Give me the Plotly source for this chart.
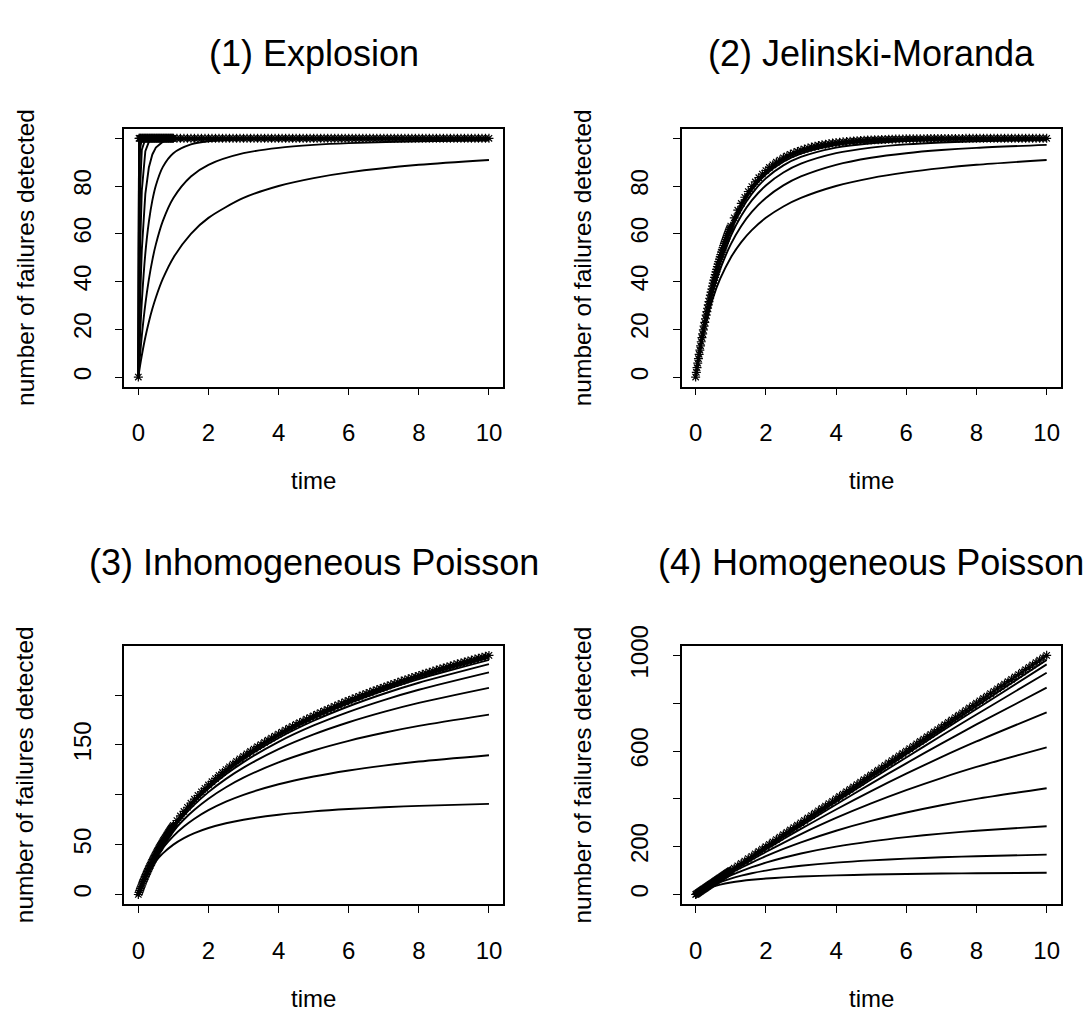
import plotly.graph_objects as go

# ---------------- data ----------------
T_STAR = [0.0, 0.1, 0.2, 0.3, 0.4, 0.5, 0.6, 0.7, 0.8, 0.9, 1.0,
          1.1, 1.2, 1.3, 1.4, 1.5, 1.6, 1.7, 1.8, 1.9, 2.0,
          2.1, 2.2, 2.3, 2.4, 2.5, 2.6, 2.7, 2.8, 2.9, 3.0,
          3.1, 3.2, 3.3, 3.4, 3.5, 3.6, 3.7, 3.8, 3.9, 4.0,
          4.1, 4.2, 4.3, 4.4, 4.5, 4.6, 4.7, 4.8, 4.9, 5.0,
          5.1, 5.2, 5.3, 5.4, 5.5, 5.6, 5.7, 5.8, 5.9, 6.0,
          6.1, 6.2, 6.3, 6.4, 6.5, 6.6, 6.7, 6.8, 6.9, 7.0,
          7.1, 7.2, 7.3, 7.4, 7.5, 7.6, 7.7, 7.8, 7.9, 8.0,
          8.1, 8.2, 8.3, 8.4, 8.5, 8.6, 8.7, 8.8, 8.9, 9.0,
          9.1, 9.2, 9.3, 9.4, 9.5, 9.6, 9.7, 9.8, 9.9, 10.0]

STAR1 = [0,
         100, 100, 100, 100, 100, 100, 100, 100, 100, 100,
         100, 100, 100, 100, 100, 100, 100, 100, 100, 100,
         100, 100, 100, 100, 100, 100, 100, 100, 100, 100,
         100, 100, 100, 100, 100, 100, 100, 100, 100, 100,
         100, 100, 100, 100, 100, 100, 100, 100, 100, 100,
         100, 100, 100, 100, 100, 100, 100, 100, 100, 100,
         100, 100, 100, 100, 100, 100, 100, 100, 100, 100,
         100, 100, 100, 100, 100, 100, 100, 100, 100, 100,
         100, 100, 100, 100, 100, 100, 100, 100, 100, 100,
         100, 100, 100, 100, 100, 100, 100, 100, 100, 100]

STAR2 = [0.0, 9.5, 18.1, 25.9, 33.0, 39.3, 45.1, 50.3, 55.1, 59.3, 63.2,
         66.7, 69.9, 72.7, 75.3, 77.7, 79.8, 81.7, 83.5, 85.0, 86.5,
         87.8, 88.9, 90.0, 90.9, 91.8, 92.6, 93.3, 93.9, 94.5, 95.0,
         95.5, 95.9, 96.3, 96.7, 97.0, 97.3, 97.5, 97.8, 98.0, 98.2,
         98.3, 98.5, 98.6, 98.8, 98.9, 99.0, 99.1, 99.2, 99.3, 99.3,
         99.4, 99.4, 99.5, 99.5, 99.6, 99.6, 99.7, 99.7, 99.7, 99.8,
         99.8, 99.8, 99.8, 99.8, 99.8, 99.9, 99.9, 99.9, 99.9, 99.9,
         99.9, 99.9, 99.9, 99.9, 99.9, 99.9, 100.0, 100.0, 100.0, 100.0,
         100.0, 100.0, 100.0, 100.0, 100.0, 100.0, 100.0, 100.0, 100.0, 100.0,
         100.0, 100.0, 100.0, 100.0, 100.0, 100.0, 100.0, 100.0, 100.0, 100.0]

STAR3 = [0.0, 9.5, 18.2, 26.2, 33.6, 40.5, 47.0, 53.1, 58.8, 64.2, 69.3,
         74.2, 78.8, 83.3, 87.5, 91.6, 95.6, 99.3, 103.0, 106.5, 109.9,
         113.1, 116.3, 119.4, 122.4, 125.3, 128.1, 130.8, 133.5, 136.1, 138.6,
         141.1, 143.5, 145.9, 148.2, 150.4, 152.6, 154.8, 156.9, 158.9, 160.9,
         162.9, 164.9, 166.8, 168.6, 170.5, 172.3, 174.0, 175.8, 177.5, 179.2,
         180.8, 182.5, 184.1, 185.6, 187.2, 188.7, 190.2, 191.7, 193.2, 194.6,
         196.0, 197.4, 198.8, 200.1, 201.5, 202.8, 204.1, 205.4, 206.7, 207.9,
         209.2, 210.4, 211.6, 212.8, 214.0, 215.2, 216.3, 217.5, 218.6, 219.7,
         220.8, 221.9, 223.0, 224.1, 225.1, 226.2, 227.2, 228.2, 229.2, 230.3,
         231.3, 232.2, 233.2, 234.2, 235.1, 236.1, 237.0, 238.0, 238.9, 239.8]

STAR4 = [0, 10, 20, 30, 40, 50, 60, 70, 80, 90, 100,
         110, 120, 130, 140, 150, 160, 170, 180, 190, 200,
         210, 220, 230, 240, 250, 260, 270, 280, 290, 300,
         310, 320, 330, 340, 350, 360, 370, 380, 390, 400,
         410, 420, 430, 440, 450, 460, 470, 480, 490, 500,
         510, 520, 530, 540, 550, 560, 570, 580, 590, 600,
         610, 620, 630, 640, 650, 660, 670, 680, 690, 700,
         710, 720, 730, 740, 750, 760, 770, 780, 790, 800,
         810, 820, 830, 840, 850, 860, 870, 880, 890, 900,
         910, 920, 930, 940, 950, 960, 970, 980, 990, 1000]

# extra (denser) star points in the first time unit
T_STAR_FINE = [0.02, 0.04, 0.06, 0.08, 0.12, 0.14, 0.16, 0.18,
               0.22, 0.24, 0.26, 0.28, 0.32, 0.34, 0.36, 0.38,
               0.42, 0.44, 0.46, 0.48, 0.52, 0.54, 0.56, 0.58,
               0.62, 0.64, 0.66, 0.68, 0.72, 0.74, 0.76, 0.78,
               0.82, 0.84, 0.86, 0.88, 0.92, 0.94, 0.96, 0.98]
STAR1_FINE = [100, 100, 100, 100, 100, 100, 100, 100,
              100, 100, 100, 100, 100, 100, 100, 100,
              100, 100, 100, 100, 100, 100, 100, 100,
              100, 100, 100, 100, 100, 100, 100, 100,
              100, 100, 100, 100, 100, 100, 100, 100]
STAR2_FINE = [1.98, 3.92, 5.82, 7.69, 11.31, 13.06, 14.79, 16.47,
              19.75, 21.34, 22.89, 24.42, 27.39, 28.82, 30.23, 31.61,
              34.30, 35.60, 36.87, 38.12, 40.55, 41.73, 42.88, 44.01,
              46.21, 47.27, 48.31, 49.34, 51.32, 52.29, 53.23, 54.16,
              55.96, 56.83, 57.68, 58.52, 60.15, 60.94, 61.71, 62.47]
STAR3_FINE = [1.98, 3.92, 5.83, 7.70, 11.33, 13.10, 14.84, 16.55,
              19.89, 21.51, 23.11, 24.69, 27.76, 29.27, 30.75, 32.21,
              35.07, 36.46, 37.84, 39.20, 41.87, 43.18, 44.47, 45.74,
              48.24, 49.47, 50.68, 51.88, 54.23, 55.39, 56.53, 57.66,
              59.88, 60.98, 62.06, 63.13, 65.23, 66.27, 67.29, 68.31]
STAR4_FINE = [2, 4, 6, 8, 12, 14, 16, 18,
              22, 24, 26, 28, 32, 34, 36, 38,
              42, 44, 46, 48, 52, 54, 56, 58,
              62, 64, 66, 68, 72, 74, 76, 78,
              82, 84, 86, 88, 92, 94, 96, 98]

# panel 1 curves (time grid dense near 0)
T1 = [0, 0.02, 0.05, 0.1, 0.2, 0.3, 0.4, 0.5, 0.7, 1, 1.5, 2, 3, 4, 5, 6, 8, 10]
P1_A1 = [0, 1.96, 4.76, 9.09, 16.67, 23.08, 28.57, 33.33, 41.18, 50.0, 60.0, 66.67, 75.0, 80.0, 83.33, 85.71, 88.89, 90.91]
P1_A2 = [0, 3.88, 9.30, 17.36, 30.56, 40.83, 48.98, 55.56, 65.40, 75.0, 84.0, 88.89, 93.75, 96.0, 97.22, 97.96, 98.77, 99.17]
P1_A4 = [0, 7.62, 17.73, 31.70, 51.77, 64.99, 73.97, 80.25, 88.03, 93.75, 97.44, 98.77, 99.61, 99.84, 99.92, 99.96, 99.98, 99.99]
P1_A8 = [0, 14.65, 32.32, 53.35, 76.74, 87.74, 93.22, 96.10, 98.57, 99.61, 99.93, 99.98, 100, 100, 100, 100, 100, 100]
P1_A16 = [0, 27.16, 54.19, 78.24, 94.59, 98.50, 99.54, 99.85, 99.98, 100, 100, 100, 100, 100, 100, 100, 100, 100]
P1_A32 = [0, 46.94, 79.01, 95.26, 99.71, 99.98, 100, 100, 100, 100, 100, 100, 100, 100, 100, 100, 100, 100]
P1_A64 = [0, 71.84, 95.59, 99.78, 100, 100, 100, 100, 100, 100, 100, 100, 100, 100, 100, 100, 100, 100]
P1_A128 = [0, 92.07, 99.81, 100, 100, 100, 100, 100, 100, 100, 100, 100, 100, 100, 100, 100, 100, 100]
P1_A256 = [0, 99.37, 100, 100, 100, 100, 100, 100, 100, 100, 100, 100, 100, 100, 100, 100, 100, 100]
P1_A512 = [0, 100, 100, 100, 100, 100, 100, 100, 100, 100, 100, 100, 100, 100, 100, 100, 100, 100]

# time grid for panels 2-4
T = [0, 0.1, 0.2, 0.3, 0.5, 0.7, 1, 1.3, 1.6, 2, 2.5, 3, 4, 5, 6, 7, 8, 10]

P2_B1 = [0, 9.09, 16.67, 23.08, 33.33, 41.18, 50.0, 56.52, 61.54, 66.67, 71.43, 75.0, 80.0, 83.33, 85.71, 87.5, 88.89, 90.91]
P2_B2 = [0, 9.30, 17.36, 24.39, 36.0, 45.13, 55.56, 63.27, 69.14, 75.0, 80.25, 84.0, 88.89, 91.84, 93.75, 95.06, 96.0, 97.22]
P2_B4 = [0, 9.40, 17.73, 25.12, 37.57, 47.54, 59.04, 67.56, 73.97, 80.25, 85.66, 89.34, 93.75, 96.10, 97.44, 98.25, 98.77, 99.33]
P2_B8 = [0, 9.46, 17.92, 25.51, 38.43, 48.88, 61.03, 70.02, 76.74, 83.22, 88.65, 92.17, 96.10, 97.94, 98.86, 99.35, 99.61, 99.85]
P2_B16 = [0, 9.49, 18.03, 25.71, 38.88, 49.60, 62.09, 71.35, 78.24, 84.81, 90.20, 93.61, 97.18, 98.71, 99.39, 99.70, 99.85, 99.96]
P2_B32 = [0, 9.50, 18.08, 25.81, 39.11, 49.96, 62.64, 72.04, 79.01, 85.63, 90.99, 94.32, 97.69, 99.04, 99.59, 99.82, 99.92, 99.98]
P2_B64 = [0, 9.51, 18.10, 25.87, 39.23, 50.15, 62.92, 72.39, 79.41, 86.04, 91.39, 94.67, 97.94, 99.19, 99.68, 99.87, 99.95, 99.99]
P2_B128 = [0, 9.51, 18.12, 25.89, 39.28, 50.25, 63.06, 72.57, 79.60, 86.25, 91.59, 94.84, 98.07, 99.26, 99.72, 99.89, 99.96, 100.0]

P3_C1 = [0, 9.09, 16.67, 23.08, 33.33, 41.18, 50.0, 56.52, 61.54, 66.67, 71.43, 75.0, 80.0, 83.33, 85.71, 87.5, 88.89, 90.91]
P3_C2 = [0, 9.31, 17.43, 24.59, 36.70, 46.61, 58.58, 68.12, 75.97, 84.53, 93.10, 100.0, 110.56, 118.35, 124.41, 129.29, 133.33, 139.70]
P3_C4 = [0, 9.42, 17.82, 25.39, 38.56, 49.69, 63.64, 75.19, 84.99, 96.07, 107.56, 117.16, 132.50, 144.42, 154.08, 162.16, 169.06, 180.36]
P3_C8 = [0, 9.47, 18.03, 25.81, 39.54, 51.34, 66.40, 79.10, 90.07, 102.65, 115.96, 127.28, 145.79, 160.53, 172.73, 183.12, 192.13, 207.19]
P3_C16 = [0, 9.50, 18.13, 26.02, 40.04, 52.19, 67.84, 81.16, 92.75, 106.17, 120.50, 132.79, 153.11, 169.51, 183.22, 195.00, 205.30, 222.69]
P3_C32 = [0, 9.52, 18.18, 26.13, 40.29, 52.63, 68.57, 82.22, 94.14, 108.00, 122.86, 135.67, 156.96, 174.25, 188.79, 201.33, 212.35, 231.03]
P3_C64 = [0, 9.52, 18.21, 26.18, 40.42, 52.84, 68.94, 82.75, 94.84, 108.92, 124.06, 137.14, 158.94, 176.69, 191.66, 204.60, 216.0, 235.35]
P3_C128 = [0, 9.53, 18.22, 26.21, 40.48, 52.95, 69.13, 83.02, 95.20, 109.39, 124.67, 137.88, 159.94, 177.93, 193.12, 206.26, 217.85, 237.56]
P3_C256 = [0, 9.53, 18.23, 26.22, 40.51, 53.01, 69.22, 83.16, 95.37, 109.63, 124.97, 138.25, 160.44, 178.55, 193.85, 207.10, 218.78, 238.67]
P3_C512 = [0, 9.53, 18.23, 26.23, 40.53, 53.03, 69.27, 83.22, 95.46, 109.74, 125.12, 138.44, 160.69, 178.86, 194.22, 207.52, 219.25, 239.23]

P4_D1 = [0, 9.09, 16.67, 23.08, 33.33, 41.18, 50.0, 56.52, 61.54, 66.67, 71.43, 75.0, 80.0, 83.33, 85.71, 87.5, 88.89, 90.91]
P4_D2 = [0, 9.52, 18.18, 26.09, 40.0, 51.85, 66.67, 78.79, 88.89, 100.0, 111.11, 120.0, 133.33, 142.86, 150.0, 155.56, 160.0, 166.67]
P4_D4 = [0, 9.76, 19.05, 27.91, 44.44, 59.57, 80.0, 98.11, 114.29, 133.33, 153.85, 171.43, 200.0, 222.22, 240.0, 254.55, 266.67, 285.71]
P4_D8 = [0, 9.88, 19.51, 28.92, 47.06, 64.37, 88.89, 111.83, 133.33, 160.0, 190.48, 218.18, 266.67, 307.69, 342.86, 373.33, 400.0, 444.44]
P4_D16 = [0, 9.94, 19.75, 29.45, 48.48, 67.07, 94.12, 120.23, 145.45, 177.78, 216.22, 252.63, 320.0, 380.95, 436.36, 486.96, 533.33, 615.38]
P4_D32 = [0, 9.97, 19.88, 29.72, 49.23, 68.50, 96.97, 124.92, 152.38, 188.24, 231.88, 274.29, 355.56, 432.43, 505.26, 574.36, 640.0, 761.90]
P4_D64 = [0, 9.98, 19.94, 29.86, 49.61, 69.24, 98.46, 127.41, 156.10, 193.94, 240.60, 286.57, 376.47, 463.77, 548.57, 630.99, 711.11, 864.86]
P4_D128 = [0, 9.99, 19.97, 29.93, 49.81, 69.62, 99.22, 128.69, 158.02, 196.92, 245.21, 293.13, 387.88, 481.20, 573.13, 663.70, 752.94, 927.54]
P4_D256 = [0, 10.0, 19.98, 29.96, 49.90, 69.81, 99.61, 129.34, 159.01, 198.45, 247.58, 296.53, 393.85, 490.42, 586.26, 681.37, 775.76, 962.41]
P4_D512 = [0, 10.0, 19.99, 29.98, 49.95, 69.90, 99.81, 129.67, 159.50, 199.22, 248.78, 298.25, 396.90, 495.16, 593.05, 690.56, 787.69, 980.84]

TITLES = ["(1) Explosion", "(2) Jelinski-Moranda",
          "(3) Inhomogeneous Poisson", "(4) Homogeneous Poisson"]
XLAB = "time"
YLAB = "number of failures detected"
XTICKS = [0, 2, 4, 6, 8, 10]
YTICKS = [[0, 20, 40, 60, 80, 100], [0, 20, 40, 60, 80, 100],
          [0, 50, 100, 150, 200], [0, 200, 400, 600, 800, 1000]]
YTICKTEXT = [["0", "20", "40", "60", "80", ""], ["0", "20", "40", "60", "80", ""],
             ["0", "50", "", "150", ""], ["0", "200", "", "600", "", "1000"]]

# ---------------- layout geometry ----------------
W, H = 1089, 1016
FONT = "Liberation Sans, Arial, Helvetica, sans-serif"
BOXES = [  # (left, right, top, bottom) in pixels
    (124.3, 503.0, 110.0, 373.3),
    (681.6, 1060.7, 110.0, 373.3),
    (124.3, 503.0, 638.0, 901.7),
    (681.6, 1060.7, 638.0, 901.7),
]
YRANGES = [[-4, 104], [-4, 104], [-9.6, 249.4], [-40, 1040]]


def px(x):
    return x / W


def py(y):
    return 1 - y / H


fig = go.Figure()

line_style = dict(color="black", width=1.9)
star_marker = dict(symbol="asterisk-open", size=7.5, color="black",
                   line=dict(color="black", width=1.2))

panels = [
    (T1, [P1_A1, P1_A2, P1_A4, P1_A8, P1_A16, P1_A32, P1_A64, P1_A128, P1_A256, P1_A512],
     STAR1, STAR1_FINE),
    (T, [P2_B1, P2_B2, P2_B4, P2_B8, P2_B16, P2_B32, P2_B64, P2_B128], STAR2, STAR2_FINE),
    (T, [P3_C1, P3_C2, P3_C4, P3_C8, P3_C16, P3_C32, P3_C64, P3_C128, P3_C256, P3_C512],
     STAR3, STAR3_FINE),
    (T, [P4_D1, P4_D2, P4_D4, P4_D8, P4_D16, P4_D32, P4_D64, P4_D128, P4_D256, P4_D512],
     STAR4, STAR4_FINE),
]

for i, (tgrid, curves, star, star_fine) in enumerate(panels):
    ax = "" if i == 0 else str(i + 1)
    for j, yv in enumerate(curves):
        shape = "spline"
        if i == 0 and j >= 3:
            shape = "linear"
        fig.add_trace(go.Scatter(x=tgrid, y=yv, mode="lines",
                                 line=dict(shape=shape, smoothing=0.8, **line_style),
                                 xaxis="x" + ax, yaxis="y" + ax,
                                 showlegend=False, hoverinfo="skip"))
    fig.add_trace(go.Scatter(x=T_STAR, y=star, mode="markers", marker=star_marker,
                             xaxis="x" + ax, yaxis="y" + ax,
                             showlegend=False, hoverinfo="skip"))
    fig.add_trace(go.Scatter(x=T_STAR_FINE, y=star_fine, mode="markers", marker=star_marker,
                             xaxis="x" + ax, yaxis="y" + ax,
                             showlegend=False, hoverinfo="skip"))

layout = dict(width=W, height=H, margin=dict(l=0, r=0, t=0, b=0),
              paper_bgcolor="white", plot_bgcolor="white",
              font=dict(family=FONT, color="black"))

annotations = []
for i, (l, r, t, b) in enumerate(BOXES):
    ax = "" if i == 0 else str(i + 1)
    layout["xaxis" + ax] = dict(
        domain=[px(l), px(r)], anchor="y" + ax, range=[-0.4, 10.4],
        tickvals=XTICKS, ticktext=[str(v) for v in XTICKS],
        ticks="outside", ticklen=7, tickwidth=1.4, tickcolor="black",
        showline=True, mirror=True, linecolor="black", linewidth=1.8,
        showgrid=False, zeroline=False,
        tickfont=dict(size=24, family=FONT, color="black"),
        ticklabelstandoff=17)
    layout["yaxis" + ax] = dict(
        domain=[py(b), py(t)], anchor="x" + ax, range=YRANGES[i],
        tickvals=YTICKS[i], ticktext=YTICKTEXT[i], tickangle=-90,
        ticks="outside", ticklen=7, tickwidth=1.4, tickcolor="black",
        showline=True, mirror=True, linecolor="black", linewidth=1.8,
        showgrid=False, zeroline=False,
        tickfont=dict(size=24, family=FONT, color="black"),
        ticklabelstandoff=15)
    cx = (l + r) / 2
    title_y = 33 if i < 2 else 553
    annotations.append(dict(text=TITLES[i], x=px(cx), y=py(title_y),
                            xref="paper", yref="paper", showarrow=False,
                            xanchor="center", yanchor="middle",
                            font=dict(size=36, family=FONT, color="black")))
    annotations.append(dict(text=XLAB, x=px(cx), y=py(b + 96), xref="paper", yref="paper",
                            showarrow=False, xanchor="center", yanchor="middle",
                            font=dict(size=24, family=FONT, color="black")))
    annotations.append(dict(text=YLAB, x=px(l - 99), y=py((t + b) / 2), xref="paper",
                            yref="paper", showarrow=False, textangle=-90,
                            xanchor="center", yanchor="middle",
                            font=dict(size=24.5, family=FONT, color="black")))

layout["annotations"] = annotations
fig.update_layout(**layout)
fig.write_html("out.html")
